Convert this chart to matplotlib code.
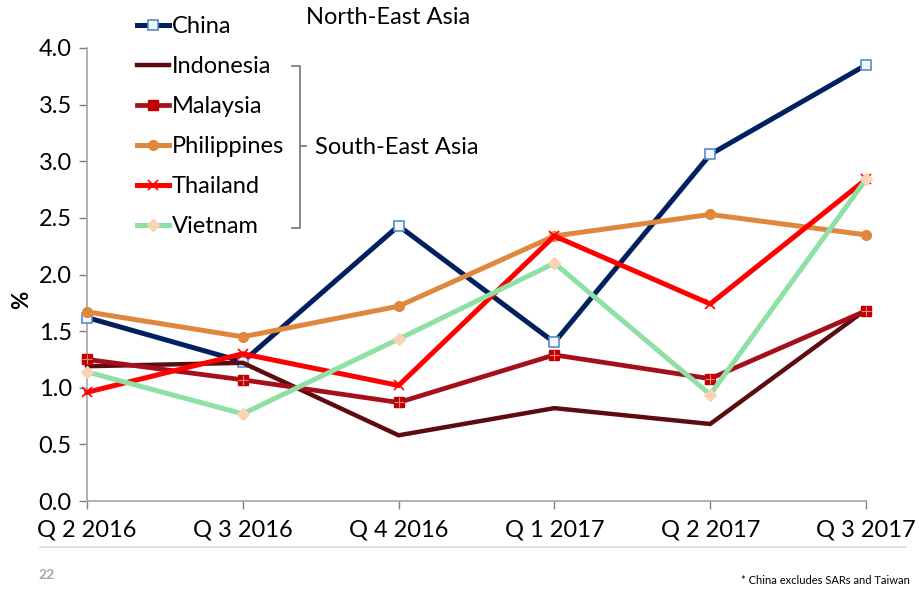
import matplotlib
matplotlib.use("Agg")
import matplotlib.pyplot as plt
import numpy as np

plt.rcParams['font.family'] = ['Lato', 'DejaVu Sans']

# données
quarters = ["Q 2 2016", "Q 3 2016", "Q 4 2016", "Q 1 2017", "Q 2 2017", "Q 3 2017"]
china = [1.62, 1.23, 2.43, 1.40, 3.06, 3.85]
indonesia = [1.19, 1.22, 0.58, 0.82, 0.68, 1.69]
malaysia = [1.25, 1.07, 0.87, 1.29, 1.08, 1.68]
philippines = [1.67, 1.45, 1.72, 2.34, 2.53, 2.35]
thailand = [0.96, 1.30, 1.02, 2.34, 1.74, 2.84]
vietnam = [1.14, 0.77, 1.43, 2.10, 0.94, 2.84]
yticks = [0.0, 0.5, 1.0, 1.5, 2.0, 2.5, 3.0, 3.5, 4.0]

W, H = 920, 591
fig = plt.figure(figsize=(W / 100, H / 100), dpi=100)
ax = fig.add_axes([87 / W, (H - 501) / H, (866 - 87) / W, (501 - 48) / H])

x = np.arange(len(quarters))

# style de chaque série
series = [
    ("China", china, dict(color="#002060", lw=3.6, marker="s", ms=7, mfc="#F4F7FB", mec="#5B8BC9", mew=1.2)),
    ("Indonesia", indonesia, dict(color="#5E0B0F", lw=3.2, marker=None)),
    ("Malaysia", malaysia, dict(color="#A50E1B", lw=3.4, marker="s", ms=7, mfc="#C00000", mec="#C00000")),
    ("Philippines", philippines, dict(color="#DF873D", lw=3.6, marker="o", ms=7, mfc="#DF873D", mec="#DF873D")),
    ("Thailand", thailand, dict(color="#FF0000", lw=3.6, marker="x", ms=7, mec="#FF0000", mew=1.2)),
    ("Vietnam", vietnam, dict(color="#8FE0A5", lw=3.6, marker="D", ms=6, mfc="#FAD3B4", mec="#FAD3B4")),
]

handles = []
for name, vals, st in series:
    h, = ax.plot(x, vals, label=name, solid_joinstyle="miter", zorder=3, clip_on=False, **st)
    handles.append(h)
# petite croix claire sur les carrés de Malaysia
ax.plot(x, malaysia, ls="none", marker="+", ms=7, mec="#F08080", mew=0.8, zorder=4, clip_on=False)

ax.set_xlim(0, len(quarters) - 1)
ax.set_ylim(0, 4)
ax.set_xticks(x)
ax.set_xticklabels(quarters)
ax.set_yticks(yticks)
ax.set_yticklabels([f"{v:.1f}" for v in yticks])
ax.tick_params(axis="both", labelsize=17, colors="#7F7F7F", labelcolor="black", length=6, width=1)
ax.tick_params(axis="x", pad=7)
ax.tick_params(axis="y", pad=5)
for s in ["top", "right"]:
    ax.spines[s].set_visible(False)
for s in ["left", "bottom"]:
    ax.spines[s].set_color("#A6A6A6")
    ax.spines[s].set_linewidth(1.2)

ax.set_ylabel("%", fontsize=16, fontweight="bold")
ax.yaxis.set_label_coords(-0.07, 0.445)

leg = ax.legend(handles=handles, loc="upper left", bbox_to_anchor=(128 / W, 1 - 7 / H),
                bbox_transform=fig.transFigure, frameon=False, fontsize=17,
                handlelength=1.35, handletextpad=0.1, labelspacing=0.8, borderaxespad=0)

# calque en pixels pour l'accolade et les textes
ov = fig.add_axes([0, 0, 1, 1], zorder=5)
ov.set_xlim(0, W)
ov.set_ylim(H, 0)
ov.axis("off")
ov.plot([292, 300, 300, 292], [66, 66, 228, 228], color="#7F7F7F", lw=1.3)
ov.plot([300, 306], [146, 146], color="#7F7F7F", lw=1.3)
ov.text(306, 18, "North-East Asia", fontsize=17, va="center", ha="left")
ov.text(315, 147, "South-East Asia", fontsize=17, va="center", ha="left")

ov.plot([40, 906], [547, 547], color="#D9D9D9", lw=1.2)
ov.text(38, 575, "22", fontsize=10, color="#A6A6A6", fontweight="bold", va="center", ha="left")
ov.text(910, 581, "* China excludes SARs and Taiwan", fontsize=8, va="center", ha="right")

fig.savefig("out.png", dpi=100)
